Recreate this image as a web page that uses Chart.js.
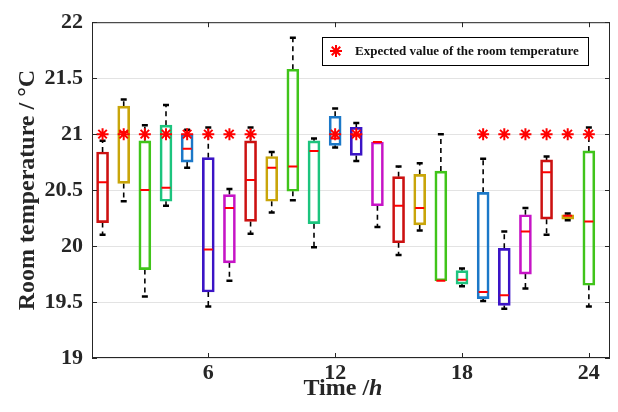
<!DOCTYPE html>
<html>
<head>
<meta charset="utf-8">
<script src="https://cdn.jsdelivr.net/npm/chart.js@4.4.1/dist/chart.umd.min.js"></script>
<style>
    html, body { margin: 0; padding: 0; background: #ffffff; }
    #wrap { width: 618px; height: 412px; }
</style>
</head>
<body>
<div id="wrap"><canvas id="myChart" width="618" height="412"></canvas></div>
<script>
// hourly room temperature box plots
const hours = [1, 2, 3, 4, 5, 6, 7, 8, 9, 10, 11, 12, 13, 14, 15, 16, 17, 18, 19, 20, 21, 22, 23, 24];
const q1 = [20.21, 20.56, 19.79, 20.40, 20.75, 19.59, 19.85, 20.22, 20.40, 20.49, 20.20, 20.90,
            20.81, 20.36, 20.03, 20.19, 19.69, 19.66, 19.53, 19.47, 19.75, 20.24, 20.24, 19.65];
const q3 = [20.84, 21.25, 20.94, 21.08, 21.00, 20.79, 20.46, 20.94, 20.80, 21.58, 20.94, 21.16,
            21.06, 20.93, 20.62, 20.64, 20.67, 19.78, 20.48, 19.98, 20.28, 20.77, 20.28, 20.85];
const medians = [20.57, 21.02, 20.50, 20.52, 20.87, 19.97, 20.34, 20.59, 20.70, 20.71, 20.85, 20.96,
                 20.99, 20.93, 20.36, 20.34, 19.69, 19.70, 19.59, 19.56, 20.13, 20.66, 20.27, 20.22];
const lowerWhisker = [20.10, 20.40, 19.55, 20.36, 20.70, 19.46, 19.69, 20.11, 20.30, 20.41, 19.99, 20.88,
                      20.76, 20.17, 19.92, 20.14, 19.69, 19.64, 19.51, 19.44, 19.62, 20.10, 20.23, 19.46];
const upperWhisker = [20.94, 21.31, 21.08, 21.26, 21.04, 21.06, 20.51, 21.06, 20.84, 21.86, 20.96, 21.23,
                      21.10, 20.93, 20.71, 20.74, 21.00, 19.80, 20.78, 20.13, 20.34, 20.80, 20.29, 21.06];
const expectedHours = [1, 2, 3, 4, 5, 6, 7, 8, 12, 13, 19, 20, 21, 22, 23, 24];
const expectedValue = 21;
const xTicks = [6, 12, 18, 24];

const boxColors = ['#cc1111', '#c9a50a', '#40c41a', '#1cc47e', '#1b78c8', '#3b14c6', '#c614c6'];
const fontFamily = "'Liberation Serif', 'Times New Roman', serif";
const ink = '#262626';

const boxData = hours.map((h, i) => ({ x: h, y: [q1[i], q3[i]] }));
const medianData = hours.map((h, i) => ({ x: h, y: medians[i] }));

const whiskerData = [];
const capData = [];
hours.forEach((h, i) => {
    if (upperWhisker[i] > q3[i]) {
        whiskerData.push({ x: h, y: q3[i] }, { x: h, y: upperWhisker[i] }, { x: h, y: null });
        capData.push({ x: h, y: upperWhisker[i] });
    }
    if (lowerWhisker[i] < q1[i]) {
        whiskerData.push({ x: h, y: q1[i] }, { x: h, y: lowerWhisker[i] }, { x: h, y: null });
        capData.push({ x: h, y: lowerWhisker[i] });
    }
});

const expectedData = expectedHours.map(h => ({ x: h, y: expectedValue }));

// frame with inward ticks, axis titles and the legend box
const decorations = {
    id: 'decorations',
    afterDraw(chart) {
        const ctx = chart.ctx;
        const area = chart.chartArea;
        const xs = chart.scales.x;
        const ys = chart.scales.y;
        ctx.save();
        ctx.strokeStyle = ink;
        ctx.lineWidth = 1;
        ctx.strokeRect(area.left + 0.5, area.top + 0.5, area.right - area.left - 1, area.bottom - area.top - 1);

        ctx.beginPath();
        xTicks.forEach(v => {
            const px = Math.round(xs.getPixelForValue(v)) + 0.5;
            ctx.moveTo(px, area.bottom);
            ctx.lineTo(px, area.bottom - 5);
            ctx.moveTo(px, area.top);
            ctx.lineTo(px, area.top + 5);
        });
        ys.ticks.forEach(t => {
            const py = Math.round(ys.getPixelForValue(t.value)) + 0.5;
            ctx.moveTo(area.left, py);
            ctx.lineTo(area.left + 5, py);
            ctx.moveTo(area.right, py);
            ctx.lineTo(area.right - 5, py);
        });
        ctx.stroke();

        // x title: "Time /h" with italic h
        ctx.fillStyle = ink;
        ctx.textBaseline = 'alphabetic';
        ctx.textAlign = 'left';
        const part1 = 'Time /';
        const part2 = 'h';
        ctx.font = 'bold 24px ' + fontFamily;
        const w1 = ctx.measureText(part1).width;
        ctx.font = 'italic bold 24px ' + fontFamily;
        const w2 = ctx.measureText(part2).width;
        const cx = (area.left + area.right) / 2 - 8;
        let sx = cx - (w1 + w2) / 2;
        ctx.font = 'bold 24px ' + fontFamily;
        ctx.fillText(part1, sx, 395);
        ctx.font = 'italic bold 24px ' + fontFamily;
        ctx.fillText(part2, sx + w1, 395);

        // y title
        ctx.save();
        ctx.translate(34, (area.top + area.bottom) / 2);
        ctx.rotate(-Math.PI / 2);
        ctx.textAlign = 'center';
        ctx.font = 'bold 24px ' + fontFamily;
        ctx.fillText('Room temperature / \u00B0C', 0, 0);
        ctx.restore();

        // legend
        const lx = 322, ly = 37, lw = 266, lh = 28;
        ctx.fillStyle = '#ffffff';
        ctx.fillRect(lx, ly, lw, lh);
        ctx.strokeStyle = '#000000';
        ctx.strokeRect(lx + 0.5, ly + 0.5, lw, lh);
        const ax = 336, ay = ly + lh / 2, r = 6;
        ctx.strokeStyle = '#ff0000';
        ctx.lineWidth = 2;
        ctx.beginPath();
        for (let k = 0; k < 4; k++) {
            const ang = k * Math.PI / 4;
            ctx.moveTo(ax - r * Math.cos(ang), ay - r * Math.sin(ang));
            ctx.lineTo(ax + r * Math.cos(ang), ay + r * Math.sin(ang));
        }
        ctx.stroke();
        ctx.fillStyle = '#111111';
        ctx.font = 'bold 13px ' + fontFamily;
        ctx.textBaseline = 'middle';
        ctx.textAlign = 'left';
        ctx.fillText('Expected value of the room temperature', 355, ay + 1);
        ctx.restore();
    }
};

const ctx = document.getElementById('myChart').getContext('2d');
const myChart = new Chart(ctx, {
    type: 'bar',
    data: {
        datasets: [
            {
                type: 'line',
                label: 'whiskers',
                data: whiskerData,
                borderColor: '#000000',
                borderWidth: 1.6,
                borderDash: [5, 4],
                pointRadius: 0,
                spanGaps: false,
                fill: false,
                order: 5
            },
            {
                type: 'bar',
                label: 'boxes',
                data: boxData,
                backgroundColor: 'rgba(255,255,255,0)',
                borderColor: hours.map((h, i) => boxColors[i % boxColors.length]),
                borderWidth: 2,
                borderSkipped: false,
                barThickness: 12,
                grouped: false,
                order: 4
            },
            {
                type: 'scatter',
                label: 'caps',
                data: capData,
                pointStyle: 'line',
                pointRadius: 3,
                borderColor: '#000000',
                borderWidth: 2.5,
                order: 3
            },
            {
                type: 'scatter',
                label: 'medians',
                data: medianData,
                pointStyle: 'line',
                pointRadius: 4.5,
                borderColor: '#ff0000',
                borderWidth: 2,
                order: 2
            },
            {
                type: 'scatter',
                label: 'Expected value of the room temperature',
                data: expectedData,
                pointStyle: 'star',
                pointRadius: 6,
                borderColor: '#ff0000',
                borderWidth: 2,
                order: 1
            }
        ]
    },
    options: {
        responsive: false,
        animation: false,
        events: [],
        layout: { padding: { left: 0, right: 7, top: 14, bottom: 0 } },
        plugins: {
            legend: { display: false },
            tooltip: { enabled: false }
        },
        scales: {
            x: {
                type: 'linear',
                min: 0.5,
                max: 25,
                offset: false,
                afterBuildTicks: scale => { scale.ticks = xTicks.map(v => ({ value: v })); },
                afterFit: scale => { scale.height = 54; },
                grid: { display: false, drawTicks: false },
                border: { display: false },
                ticks: {
                    padding: 2,
                    color: ink,
                    maxRotation: 0,
                    font: { family: fontFamily, weight: 'bold', size: 22 },
                    callback: value => String(value)
                }
            },
            y: {
                min: 19,
                max: 22,
                afterFit: scale => { scale.width = 92; },
                grid: { color: '#e3e3e3', lineWidth: 1, drawTicks: false },
                border: { display: false },
                ticks: {
                    stepSize: 0.5,
                    padding: 9,
                    color: ink,
                    font: { family: fontFamily, weight: 'bold', size: 22 },
                    callback: value => String(value)
                }
            }
        }
    },
    plugins: [decorations]
});
</script>
</body>
</html>
